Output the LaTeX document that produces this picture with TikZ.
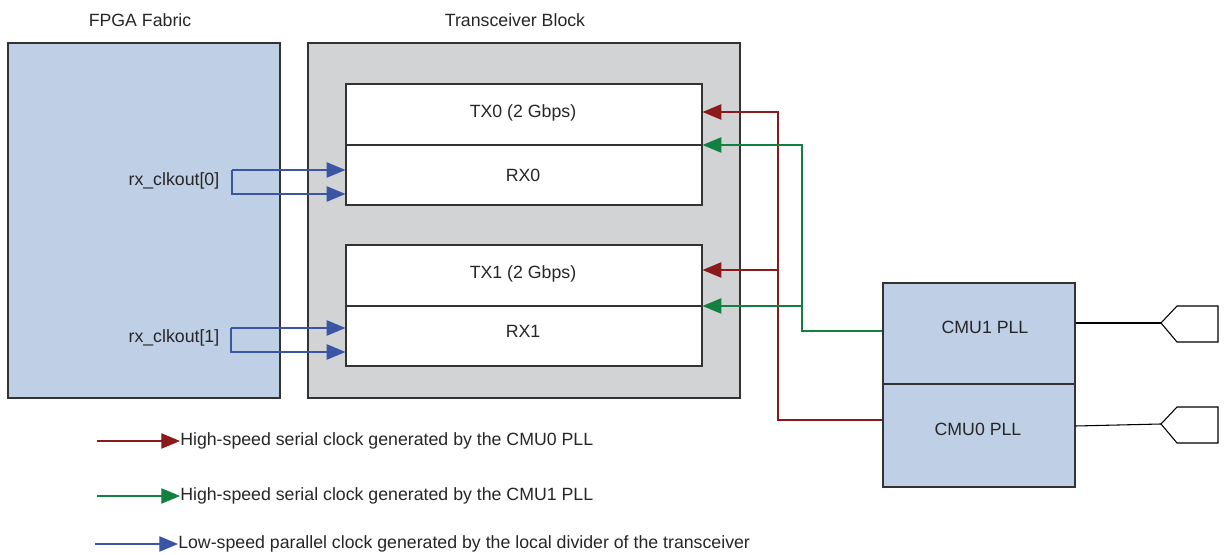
\documentclass[tikz,border=0pt]{standalone}
\usepackage{fontspec}
\setmainfont{Liberation Sans}
\usetikzlibrary{arrows.meta}
\definecolor{fabricblue}{HTML}{BFCFE6}
\definecolor{blockgray}{HTML}{D1D3D4}
\definecolor{edgegray}{HTML}{333333}
\definecolor{clkred}{HTML}{8B1A1A}
\definecolor{clkgreen}{HTML}{118040}
\definecolor{clkblue}{HTML}{3A55A4}
\tikzset{
  every node/.style={font=\fontsize{13.3}{15}\selectfont, text=black!85},
  region/.style={draw=edgegray, line width=0.9pt, inner sep=0pt},
  subbox/.style={draw=edgegray, line width=0.9pt, fill=white, inner sep=0pt, minimum width=267pt},
  cmubox/.style={draw=edgegray, line width=0.9pt, fill=fabricblue, inner sep=0pt, minimum width=144pt},
  tip/.style={-{Triangle[length=14pt,width=11.5pt]}},
  redclk/.style={tip, draw=clkred, line width=0.8pt},
  greenclk/.style={tip, draw=clkgreen, line width=0.8pt},
  blueclk/.style={tip, draw=clkblue, line width=0.8pt},
  pinline/.style={draw=black, line width=0.8pt},
}
\begin{document}
\begin{tikzpicture}[x=0.75pt,y=-0.75pt]
\useasboundingbox (0,0) rectangle (1225,555);

% regions
\node[region, fill=fabricblue, minimum width=204pt, minimum height=266.25pt] (fabric) at (144,220.5) {};
\node[region, fill=blockgray, minimum width=324pt, minimum height=266.25pt] (block) at (524,220.5) {};
\node (fabriclbl) at (140,20) {FPGA Fabric};
\node (blocklbl) at (515,20) {Transceiver Block};

% transceiver channels
\node[subbox, minimum height=45.75pt] (tx0) at (524,114.5) {};
\node[subbox, minimum height=45pt] (rx0) at (524,175) {};
\node[subbox, minimum height=45.75pt] (tx1) at (524,275.5) {};
\node[subbox, minimum height=45pt] (rx1) at (524,336) {};
\node (tx0lbl) at (523,113) {TX0 (2 Gbps)};
\node (rx0lbl) at (523,175) {RX0};
\node (tx1lbl) at (523,274) {TX1 (2 Gbps)};
\node (rx1lbl) at (523,331) {RX1};

% CMU PLLs
\node[cmubox, minimum height=75.75pt] (cmu1) at (979,333.5) {};
\node[cmubox, minimum height=77.25pt] (cmu0) at (979,435.5) {};
\node (cmu1lbl) at (985,327) {CMU1 PLL};
\node (cmu0lbl) at (978,429) {CMU0 PLL};

% reference clock pins
\coordinate (pin1) at (1161,323);
\coordinate (pin0) at (1161,424);
\draw[pinline] (cmu1.east |- pin1) -- (pin1);
\draw[pinline] (cmu0.east |- 0,426) -- (pin0);
\draw[pinline, fill=white] (pin1) -- ++(16,-17) -- ++(41,0) -- ++(0,36) -- ++(-41,0) -- cycle;
\draw[pinline, fill=white] (pin0) -- ++(16,-17) -- ++(41,0) -- ++(0,36) -- ++(-41,0) -- cycle;

% CMU0 clock (red)
\coordinate (redturn) at (778,420);
\coordinate (redsplit) at (778,270);
\draw[redclk] (cmu0.west |- redturn) -- (redturn) |- (tx0.east |- 0,112);
\draw[redclk] (redsplit) -- (tx1.east |- redsplit);

% CMU1 clock (green)
\coordinate (greenturn) at (802,331);
\coordinate (greensplit) at (802,306);
\draw[greenclk] (cmu1.west |- greenturn) -- (greenturn) |- (rx0.east |- 0,145);
\draw[greenclk] (greensplit) -- (rx1.east |- greensplit);

% rx_clkout (blue)
\node[anchor=east] (clk0lbl) at (224,181) {rx\_clkout[0]};
\node[anchor=east] (clk1lbl) at (224,338) {rx\_clkout[1]};
\coordinate (c0a) at (232,170);
\coordinate (c0b) at (232,194);
\coordinate (c1a) at (231,328);
\coordinate (c1b) at (231,352);
\draw[blueclk] (c0a) -- (rx0.west |- c0a);
\draw[blueclk] (c0a) -- (c0b) -- (rx0.west |- c0b);
\draw[blueclk] (c1a) -- (rx1.west |- c1a);
\draw[blueclk] (c1a) -- (c1b) -- (rx1.west |- c1b);

% legend
\coordinate (lr) at (97,441);
\coordinate (lg) at (97,496);
\coordinate (lb) at (95,544);
\node[anchor=west, inner sep=0pt] (lrt) at (180,441) {High-speed serial clock generated by the CMU0 PLL};
\node[anchor=west, inner sep=0pt] (lgt) at (180,496) {High-speed serial clock generated by the CMU1 PLL};
\node[anchor=west, inner sep=0pt] (lbt) at (178,544) {Low-speed parallel clock generated by the local divider of the transceiver};
\draw[redclk] (lr) -- (lrt.west);
\draw[greenclk] (lg) -- (lgt.west);
\draw[blueclk] (lb) -- (lbt.west);
\end{tikzpicture}
\end{document}
